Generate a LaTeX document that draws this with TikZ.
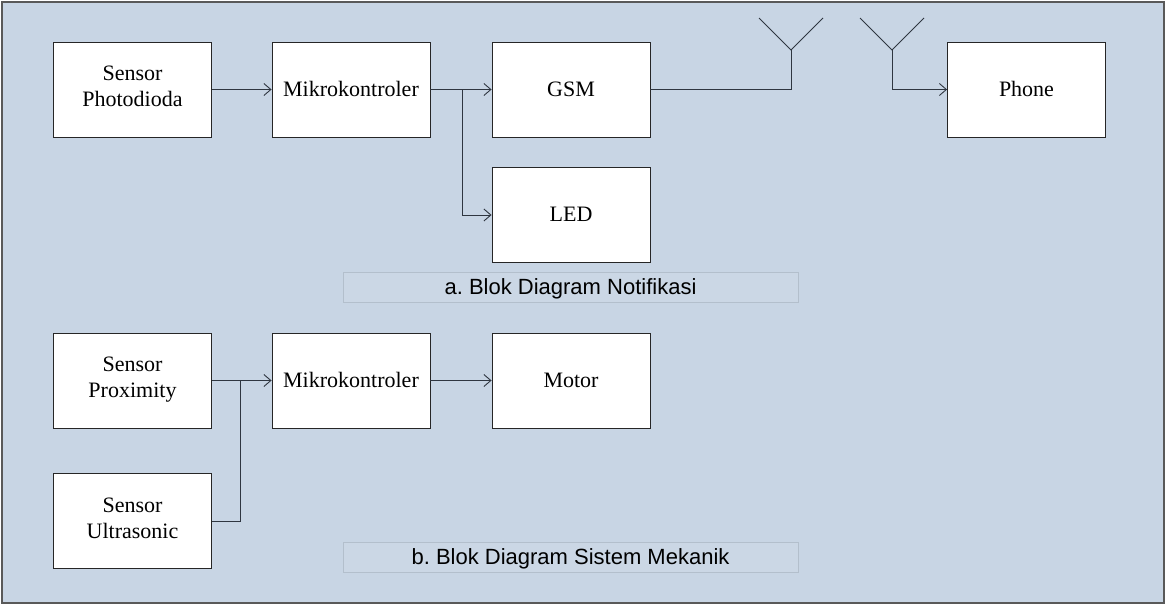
\documentclass[tikz,border=0pt]{standalone}
\usepackage{fontspec}
\setmainfont{Liberation Serif}
\newfontfamily\capfont{Liberation Sans}
\usetikzlibrary{arrows.meta}
\frenchspacing
\definecolor{bg}{HTML}{C8D5E4}
\definecolor{capbg}{HTML}{CBD7E5}
\definecolor{capline}{HTML}{B3BFCC}
\definecolor{wire}{HTML}{2F3640}
\begin{document}
\begin{tikzpicture}[x=1pt,y=-1pt,
  blk/.style={draw=black!85,fill=white,line width=0.9pt,minimum width=158pt,minimum height=95pt,
    inner sep=0pt,align=center,font=\fontsize{22}{26}\selectfont,
    execute at begin node=\rule[-6pt]{0pt}{25pt},execute at end node=\rule[-6pt]{0pt}{25pt}},
  capbox/.style={draw=capline,fill=capbg,line width=0.8pt,minimum width=455pt,minimum height=30pt,
    inner sep=0pt,font=\capfont\fontsize{22}{25}\selectfont,execute at begin node=\rule[-5pt]{0pt}{24pt}},
  wr/.style={draw=wire,line width=0.9pt},
  arr/.style={wr,-{Straight Barb[length=7pt,width=12pt,line width=0.9pt]}}]
\useasboundingbox (0,0) rectangle (1167,606);
\draw[fill=bg,draw=black!65,line width=1.2pt] (2,2) rectangle (1164,603);
% top row
\node[blk] (sp) at (132.5,89.5) {Sensor\\Photodioda};
\node[blk] (m1) at (351,89.5) {Mikrokontroler};
\node[blk] (gsm) at (571,89.5) {GSM};
\node[blk] (led) at (571,215) {LED};
\node[blk] (ph) at (1026.5,89.5) {Phone};
\node[capbox] (ca) at (570.5,287) {a. Blok Diagram Notifikasi};
% bottom row
\node[blk] (spx) at (132.5,380.5) {Sensor\\Proximity};
\node[blk] (m2) at (351,380.5) {Mikrokontroler};
\node[blk] (mot) at (571,380.5) {Motor};
\node[blk] (su) at (132.5,521) {Sensor\\Ultrasonic};
\node[capbox] (cb) at (570.5,557.5) {b. Blok Diagram Sistem Mekanik};
% antennas
\coordinate (a1) at (791,50);
\coordinate (a1l) at (759,18);
\coordinate (a1r) at (823,18);
\coordinate (a1b) at (791,89.5);
\coordinate (a2) at (892,50);
\coordinate (a2l) at (860,18);
\coordinate (a2r) at (924,18);
\coordinate (a2b) at (892,89.5);
\draw[wr] (a1l) -- (a1) -- (a1r);
\draw[wr] (a1) -- (a1b);
\draw[wr] (a2l) -- (a2) -- (a2r);
% top connectors
\draw[arr] (sp) -- (m1);
\draw[arr] (m1) -- (gsm);
\coordinate (j1) at (462,89.5);
\draw[arr] (j1) |- (led.west);
\draw[wr] (gsm.east) -- (a1b);
\draw[arr] (a2) -- (a2b) -- (ph.west);
% bottom connectors
\draw[arr] (spx) -- (m2);
\draw[arr] (m2) -- (mot);
\coordinate (j2) at (240,380.5);
\draw[wr] (su.east) -| (j2);
\end{tikzpicture}
\end{document}
